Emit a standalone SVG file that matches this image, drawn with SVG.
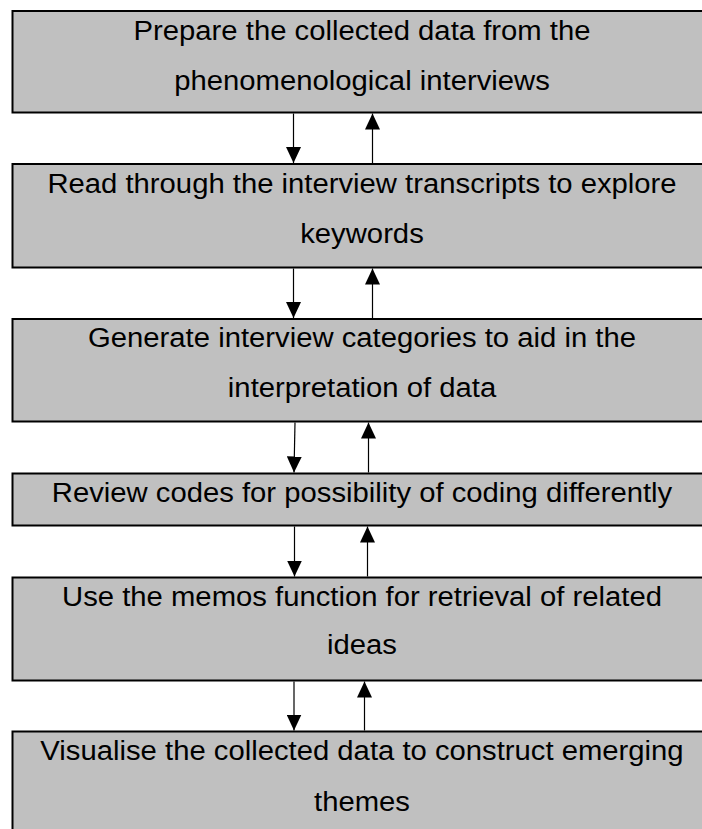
<svg xmlns="http://www.w3.org/2000/svg" width="702" height="829" viewBox="0 0 702 829">
  <style>
    .box { fill: #c0c0c0; stroke: #000000; stroke-width: 2; }
    .lbl { font-family: "Liberation Sans", Arial, sans-serif; font-size: 28px; fill: #000000; text-anchor: middle; }
    .conn { stroke: #000000; stroke-width: 1.2; fill: none; marker-end: url(#head); }
  </style>
  <defs>
    <marker id="head" markerUnits="userSpaceOnUse" markerWidth="16" markerHeight="15" viewBox="0 0 16 15" refX="16" refY="7.5" orient="auto">
      <path d="M0,0 L16,7.5 L0,15 Z" fill="#000000"/>
    </marker>
  </defs>
  <rect width="702" height="829" fill="#ffffff"/>

  <g id="node1">
    <rect class="box" x="12.5" y="11" width="700" height="101.5"/>
    <text class="lbl" transform="translate(362 40) scale(1.045 1)">Prepare the collected data from the</text>
    <text class="lbl" transform="translate(362 90) scale(1.045 1)">phenomenological interviews</text>
  </g>
  <g id="node2">
    <rect class="box" x="12.5" y="164" width="700" height="103.5"/>
    <text class="lbl" transform="translate(362 192.5) scale(1.045 1)">Read through the interview transcripts to explore</text>
    <text class="lbl" transform="translate(362 242.5) scale(1.045 1)">keywords</text>
  </g>
  <g id="node3">
    <rect class="box" x="12.5" y="319" width="700" height="102.5"/>
    <text class="lbl" transform="translate(362 347) scale(1.045 1)">Generate interview categories to aid in the</text>
    <text class="lbl" transform="translate(362 396.5) scale(1.045 1)">interpretation of data</text>
  </g>
  <g id="node4">
    <rect class="box" x="12.5" y="473.5" width="700" height="52"/>
    <text class="lbl" transform="translate(362 501.5) scale(1.045 1)">Review codes for possibility of coding differently</text>
  </g>
  <g id="node5">
    <rect class="box" x="12.5" y="577.5" width="700" height="103"/>
    <text class="lbl" transform="translate(362 605.5) scale(1.045 1)">Use the memos function for retrieval of related</text>
    <text class="lbl" transform="translate(362 654) scale(1.045 1)">ideas</text>
  </g>
  <g id="node6">
    <rect class="box" x="12.5" y="731.5" width="700" height="110"/>
    <text class="lbl" transform="translate(362 760) scale(1.045 1)">Visualise the collected data to construct emerging</text>
    <text class="lbl" transform="translate(362 810.5) scale(1.045 1)">themes</text>
  </g>

  <g id="connectors">
    <line class="conn" x1="293.5" y1="113.5" x2="293.5" y2="163"/>
    <line class="conn" x1="372.5" y1="163" x2="372.5" y2="113.5"/>
    <line class="conn" x1="293.5" y1="268.5" x2="293.5" y2="318"/>
    <line class="conn" x1="372.5" y1="318" x2="372.5" y2="268.5"/>
    <line class="conn" x1="295" y1="422.5" x2="294" y2="472.5"/>
    <line class="conn" x1="368.5" y1="472.5" x2="368.5" y2="422.5"/>
    <line class="conn" x1="294.5" y1="526.5" x2="294.5" y2="576.5"/>
    <line class="conn" x1="367.5" y1="576.5" x2="367.5" y2="526.5"/>
    <line class="conn" x1="294" y1="681.5" x2="294" y2="730.5"/>
    <line class="conn" x1="364.5" y1="730.5" x2="364.5" y2="681.5"/>
  </g>
</svg>
